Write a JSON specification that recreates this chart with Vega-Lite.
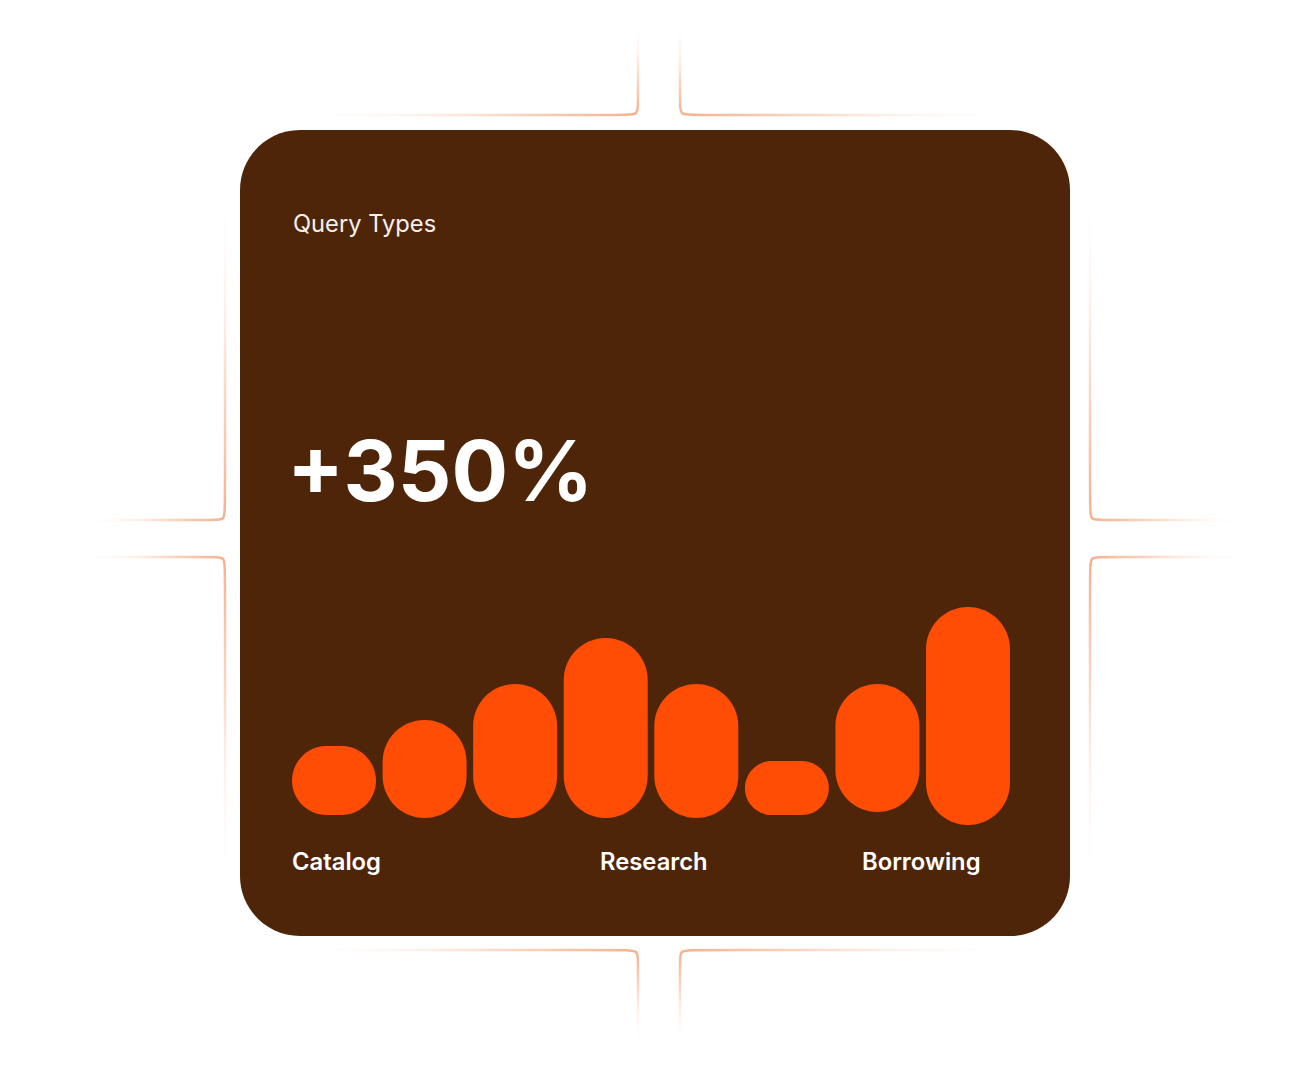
{
  "$schema": "https://vega.github.io/schema/vega-lite/v6.json",
  "width": 1310,
  "height": 1066,
  "padding": 0,
  "autosize": {"type": "fit", "contains": "padding"},
  "background": "#ffffff",
  "config": {"view": {"stroke": null}},
  "datasets": {
    "deco": [
      {"g": "a", "o": 1, "x": 290, "y": 115}, {"g": "a", "o": 2, "x": 626, "y": 115}, {"g": "a", "o": 3, "x": 638, "y": 115}, {"g": "a", "o": 4, "x": 638, "y": 103}, {"g": "a", "o": 5, "x": 638, "y": 20},
      {"g": "c", "o": 1, "x": 225, "y": 177}, {"g": "c", "o": 2, "x": 225, "y": 508}, {"g": "c", "o": 3, "x": 225, "y": 520}, {"g": "c", "o": 4, "x": 213, "y": 520}, {"g": "c", "o": 5, "x": 80, "y": 520},
      {"g": "b", "o": 1, "x": 680, "y": 20}, {"g": "b", "o": 2, "x": 680, "y": 103}, {"g": "b", "o": 3, "x": 680, "y": 115}, {"g": "b", "o": 4, "x": 692, "y": 115}, {"g": "b", "o": 5, "x": 1020, "y": 115},
      {"g": "e", "o": 1, "x": 1090, "y": 177}, {"g": "e", "o": 2, "x": 1090, "y": 508}, {"g": "e", "o": 3, "x": 1090, "y": 520}, {"g": "e", "o": 4, "x": 1102, "y": 520}, {"g": "e", "o": 5, "x": 1250, "y": 520},
      {"g": "d", "o": 1, "x": 80, "y": 557}, {"g": "d", "o": 2, "x": 213, "y": 557}, {"g": "d", "o": 3, "x": 225, "y": 557}, {"g": "d", "o": 4, "x": 225, "y": 569}, {"g": "d", "o": 5, "x": 225, "y": 897},
      {"g": "g", "o": 1, "x": 290, "y": 950}, {"g": "g", "o": 2, "x": 626, "y": 950}, {"g": "g", "o": 3, "x": 638, "y": 950}, {"g": "g", "o": 4, "x": 638, "y": 962}, {"g": "g", "o": 5, "x": 638, "y": 1048},
      {"g": "f", "o": 1, "x": 1250, "y": 557}, {"g": "f", "o": 2, "x": 1102, "y": 557}, {"g": "f", "o": 3, "x": 1090, "y": 557}, {"g": "f", "o": 4, "x": 1090, "y": 569}, {"g": "f", "o": 5, "x": 1090, "y": 897},
      {"g": "h", "o": 1, "x": 1020, "y": 950}, {"g": "h", "o": 2, "x": 692, "y": 950}, {"g": "h", "o": 3, "x": 680, "y": 950}, {"g": "h", "o": 4, "x": 680, "y": 962}, {"g": "h", "o": 5, "x": 680, "y": 1048}
    ],
    "card": [{"x1": 240, "x2": 1070, "y1": 130, "y2": 936}],
    "bars": [
      {"id": "1", "low": 15, "high": 84},
      {"id": "2", "low": 12, "high": 110},
      {"id": "3", "low": 12, "high": 146},
      {"id": "4", "low": 12, "high": 192},
      {"id": "5", "low": 12, "high": 146},
      {"id": "6", "low": 15, "high": 69},
      {"id": "7", "low": 18, "high": 146},
      {"id": "8", "low": 5, "high": 223}
    ],
    "texts": [
      {"k": "sub", "text": "Query Types", "x": 293, "y": 232},
      {"k": "big", "text": "+350%", "x": 287, "y": 501},
      {"k": "lab", "text": "Catalog", "x": 292, "y": 870},
      {"k": "lab", "text": "Research", "x": 600, "y": 870},
      {"k": "lab", "text": "Borrowing", "x": 862, "y": 870}
    ]
  },
  "resolve": {"scale": {"x": "independent", "y": "independent"}},
  "layer": [
    {
      "data": {"name": "deco"},
      "transform": [{"filter": {"field": "g", "oneOf": ["a", "c"]}}],
      "mark": {"type": "line", "interpolate": "basis", "strokeWidth": 2.5, "strokeCap": "round",
        "stroke": {"gradient": "linear", "x1": 0, "y1": 0, "x2": 1, "y2": 1,
          "stops": [{"offset": 0.5, "color": "rgba(255,255,255,0)"}, {"offset": 0.8, "color": "#FBD9C6"}, {"offset": 1, "color": "#F5B08C"}]}},
      "encoding": {
        "x": {"field": "x", "type": "quantitative", "scale": {"domain": [0, 1310], "nice": false, "zero": false}, "axis": null},
        "y": {"field": "y", "type": "quantitative", "scale": {"domain": [0, 1066], "nice": false, "zero": false, "reverse": true}, "axis": null},
        "detail": {"field": "g"},
        "order": {"field": "o"}
      }
    },
    {
      "data": {"name": "deco"},
      "transform": [{"filter": {"field": "g", "oneOf": ["b", "e"]}}],
      "mark": {"type": "line", "interpolate": "basis", "strokeWidth": 2.5, "strokeCap": "round",
        "stroke": {"gradient": "linear", "x1": 1, "y1": 0, "x2": 0, "y2": 1,
          "stops": [{"offset": 0.5, "color": "rgba(255,255,255,0)"}, {"offset": 0.8, "color": "#FBD9C6"}, {"offset": 1, "color": "#F5B08C"}]}},
      "encoding": {
        "x": {"field": "x", "type": "quantitative", "scale": {"domain": [0, 1310], "nice": false, "zero": false}, "axis": null},
        "y": {"field": "y", "type": "quantitative", "scale": {"domain": [0, 1066], "nice": false, "zero": false, "reverse": true}, "axis": null},
        "detail": {"field": "g"},
        "order": {"field": "o"}
      }
    },
    {
      "data": {"name": "deco"},
      "transform": [{"filter": {"field": "g", "oneOf": ["d", "g"]}}],
      "mark": {"type": "line", "interpolate": "basis", "strokeWidth": 2.5, "strokeCap": "round",
        "stroke": {"gradient": "linear", "x1": 0, "y1": 1, "x2": 1, "y2": 0,
          "stops": [{"offset": 0.5, "color": "rgba(255,255,255,0)"}, {"offset": 0.8, "color": "#FBD9C6"}, {"offset": 1, "color": "#F5B08C"}]}},
      "encoding": {
        "x": {"field": "x", "type": "quantitative", "scale": {"domain": [0, 1310], "nice": false, "zero": false}, "axis": null},
        "y": {"field": "y", "type": "quantitative", "scale": {"domain": [0, 1066], "nice": false, "zero": false, "reverse": true}, "axis": null},
        "detail": {"field": "g"},
        "order": {"field": "o"}
      }
    },
    {
      "data": {"name": "deco"},
      "transform": [{"filter": {"field": "g", "oneOf": ["f", "h"]}}],
      "mark": {"type": "line", "interpolate": "basis", "strokeWidth": 2.5, "strokeCap": "round",
        "stroke": {"gradient": "linear", "x1": 1, "y1": 1, "x2": 0, "y2": 0,
          "stops": [{"offset": 0.5, "color": "rgba(255,255,255,0)"}, {"offset": 0.8, "color": "#FBD9C6"}, {"offset": 1, "color": "#F5B08C"}]}},
      "encoding": {
        "x": {"field": "x", "type": "quantitative", "scale": {"domain": [0, 1310], "nice": false, "zero": false}, "axis": null},
        "y": {"field": "y", "type": "quantitative", "scale": {"domain": [0, 1066], "nice": false, "zero": false, "reverse": true}, "axis": null},
        "detail": {"field": "g"},
        "order": {"field": "o"}
      }
    },
    {
      "data": {"name": "card"},
      "mark": {"type": "rect", "cornerRadius": 60, "fill": "#4E2508"},
      "encoding": {
        "x": {"field": "x1", "type": "quantitative", "scale": {"domain": [0, 1310], "nice": false, "zero": false}, "axis": null},
        "x2": {"field": "x2"},
        "y": {"field": "y1", "type": "quantitative", "scale": {"domain": [0, 1066], "nice": false, "zero": false, "reverse": true}, "axis": null},
        "y2": {"field": "y2"}
      }
    },
    {
      "data": {"name": "bars"},
      "mark": {"type": "rect", "cornerRadius": 42, "fill": "#FF4D05"},
      "encoding": {
        "x": {"field": "id", "type": "nominal", "scale": {"range": [292, 1010], "paddingInner": 0.0726, "paddingOuter": 0}, "axis": null},
        "y": {"field": "high", "type": "quantitative", "scale": {"domain": [0, 240], "range": [830, 590], "nice": false, "zero": false}, "axis": null},
        "y2": {"field": "low"}
      }
    },
    {
      "data": {"name": "texts"},
      "transform": [{"filter": "datum.k === 'sub'"}],
      "mark": {"type": "text", "align": "left", "baseline": "alphabetic", "font": "Inter", "fontSize": 23.7, "fontWeight": 400, "fill": "#F6F0EA"},
      "encoding": {
        "x": {"field": "x", "type": "quantitative", "scale": {"domain": [0, 1310], "nice": false, "zero": false}, "axis": null},
        "y": {"field": "y", "type": "quantitative", "scale": {"domain": [0, 1066], "nice": false, "zero": false, "reverse": true}, "axis": null},
        "text": {"field": "text"}
      }
    },
    {
      "data": {"name": "texts"},
      "transform": [{"filter": "datum.k === 'big'"}],
      "mark": {"type": "text", "align": "left", "baseline": "alphabetic", "font": "Inter", "fontSize": 84, "fontWeight": 700, "letterSpacing": -2, "fill": "#FFFFFF"},
      "encoding": {
        "x": {"field": "x", "type": "quantitative", "scale": {"domain": [0, 1310], "nice": false, "zero": false}, "axis": null},
        "y": {"field": "y", "type": "quantitative", "scale": {"domain": [0, 1066], "nice": false, "zero": false, "reverse": true}, "axis": null},
        "text": {"field": "text"}
      }
    },
    {
      "data": {"name": "texts"},
      "transform": [{"filter": "datum.k === 'lab'"}],
      "mark": {"type": "text", "align": "left", "baseline": "alphabetic", "font": "Inter", "fontSize": 23.8, "fontWeight": 600, "fill": "#FFFFFF"},
      "encoding": {
        "x": {"field": "x", "type": "quantitative", "scale": {"domain": [0, 1310], "nice": false, "zero": false}, "axis": null},
        "y": {"field": "y", "type": "quantitative", "scale": {"domain": [0, 1066], "nice": false, "zero": false, "reverse": true}, "axis": null},
        "text": {"field": "text"}
      }
    }
  ]
}
